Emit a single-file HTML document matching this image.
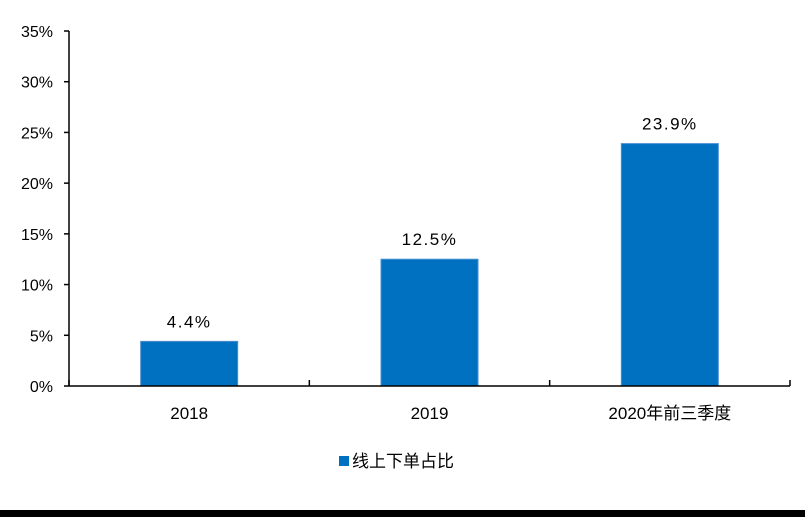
<!DOCTYPE html>
<html><head><meta charset="utf-8"><style>
body{margin:0;background:#fff;width:805px;height:517px;overflow:hidden}
text{font-family:"Liberation Sans","Noto Sans CJK SC",sans-serif;fill:#000}
</style></head><body>
<svg id="chart" width="805" height="517" xmlns="http://www.w3.org/2000/svg">
<g id="yaxis"></g>
<g id="bars"></g>
<g id="xaxis"></g>
<g>
<rect x="339" y="456" width="10" height="10" fill="#0070c0"/>
<text x="352" y="467" font-size="17">线上下单占比</text>
</g>
<rect x="0" y="510" width="805" height="7" fill="#000"/>
</svg>
<script>
const categories=["2018","2019","2020年前三季度"];
const values=[4.4,12.5,23.9];
const valueLabels=["4.4%","12.5%","23.9%"];
const yTicks=[0,5,10,15,20,25,30,35];
const NS="http://www.w3.org/2000/svg";
const x0=69,x1=790,y0=386,yTop=31,yMax=35;
const band=(x1-x0)/categories.length;
const y=v=>y0-(v/yMax)*(y0-yTop);
const xc=i=>x0+band*(i+0.5);
function mk(tag,attrs,parent,txt){const e=document.createElementNS(NS,tag);for(const k in attrs)e.setAttribute(k,attrs[k]);if(txt!==undefined)e.textContent=txt;parent.appendChild(e);return e;}
const ya=document.getElementById('yaxis'),xa=document.getElementById('xaxis'),bg=document.getElementById('bars');
let l=mk('line',{x1:x0,y1:yTop,x2:x0,y2:y0,stroke:'#000','stroke-width':1.5},ya);


yTicks.forEach(t=>{
 const tk=mk('line',{x1:x0-5,y1:y(t),x2:x0,y2:y(t),stroke:'#000','stroke-width':1.5},ya);
 
 
 const tx=mk('text',{x:x0-16,y:y(t)+6,'text-anchor':'end','font-size':16},ya,t+'%');
 
 
});
values.forEach((v,i)=>{
 const w=97;
 const r=mk('rect',{x:xc(i)-w/2,y:y(v),width:w,height:y0-y(v),fill:'#0070c0',stroke:'#4a8fd0','stroke-width':1},bg);
 
 
 const t=mk('text',{x:xc(i),y:y(v)-14,'text-anchor':'middle','font-size':17,'letter-spacing':'1.5'},bg,valueLabels[i]);
 
 
});
l=mk('line',{x1:x0,y1:y0,x2:x1,y2:y0,stroke:'#000','stroke-width':1.5},xa);


for(let i=0;i<=categories.length;i++){
 const tk=mk('line',{x1:x0+band*i,y1:y0,x2:x0+band*i,y2:y0-6,stroke:'#000','stroke-width':1.5},xa);
 
 
}
categories.forEach((c,i)=>{
 const t=mk('text',{x:xc(i),y:y0+33,'text-anchor':'middle','font-size':17},xa,c);
 
 
});
</script>
</body></html>
